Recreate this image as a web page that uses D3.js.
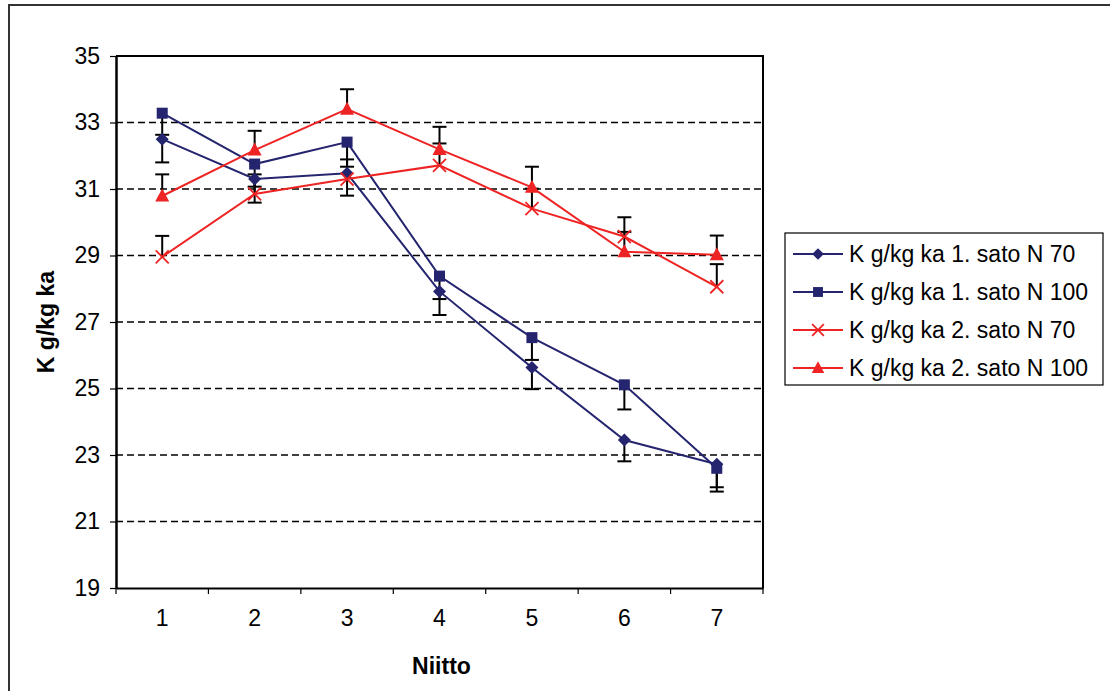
<!DOCTYPE html>
<html>
<head>
<meta charset="utf-8">
<script src="https://cdn.jsdelivr.net/npm/d3@7"></script>
<style>
  html, body { margin: 0; padding: 0; background: #fff; }
  svg { display: block; font-family: "Liberation Sans", Arial, sans-serif; }
</style>
</head>
<body>
<svg id="chart" width="1110" height="691"></svg>
<script>
const categories = ["1", "2", "3", "4", "5", "6", "7"];
const yTicks = [19, 21, 23, 25, 27, 29, 31, 33, 35];

const s1N70  = [32.5, 31.3, 31.47, 27.92, 25.63, 23.45, 22.72];
const s1N70Err  = [0.70, 0.71, 0.67, 0.71, 0.65, 0.64, 0.69];
const s1N100 = [33.28, 31.75, 32.41, 28.38, 26.53, 25.11, 22.60];
const s1N100Err = [0.65, 0.68, 0.74, 0.69, 0.67, 0.74, 0.70];
const s2N70  = [28.96, 30.85, 31.30, 31.71, 30.41, 29.57, 28.06];
const s2N70Err  = [0.63, 0.59, 0.59, 0.66, 0.60, 0.58, 0.68];
const s2N100 = [30.79, 32.17, 33.40, 32.19, 31.05, 29.11, 29.02];
const s2N100Err = [0.65, 0.58, 0.60, 0.68, 0.62, 0.60, 0.58];

const seriesNames = [
  "K g/kg ka 1. sato N 70",
  "K g/kg ka 1. sato N 100",
  "K g/kg ka 2. sato N 70",
  "K g/kg ka 2. sato N 100"
];

const NAVY = "#24246f";
const RED = "#ee2424";
const FONT = 23;

const series = [
  { name: seriesNames[0], values: s1N70,  err: s1N70Err,  dir: -1, color: NAVY, marker: "diamond" },
  { name: seriesNames[1], values: s1N100, err: s1N100Err, dir: -1, color: NAVY, marker: "square" },
  { name: seriesNames[2], values: s2N70,  err: s2N70Err,  dir: 1,  color: RED,  marker: "x" },
  { name: seriesNames[3], values: s2N100, err: s2N100Err, dir: 1,  color: RED,  marker: "triangle" }
];

const svg = d3.select("#chart");
const plot = { left: 116, right: 763, top: 56, bottom: 588 };

const x = d3.scaleBand().domain(categories).range([plot.left, plot.right]).padding(0);
const cx = c => x(c) + x.bandwidth() / 2;
const y = d3.scaleLinear().domain([19, 35]).range([plot.bottom, plot.top]);

// outer chart border
svg.append("rect")
  .attr("x", 9).attr("y", 5).attr("width", 1110).attr("height", 700)
  .attr("fill", "none").attr("stroke", "#333").attr("stroke-width", 2);

// gridlines
svg.append("g")
  .selectAll("line")
  .data(yTicks.filter(t => t > 19 && t < 35))
  .join("line")
  .attr("x1", plot.left).attr("x2", plot.right)
  .attr("y1", d => y(d)).attr("y2", d => y(d))
  .attr("stroke", "#000").attr("stroke-width", 1.4)
  .attr("stroke-dasharray", "7,4");

// plot border (top/right)
svg.append("path")
  .attr("d", `M${plot.left},${plot.top}H${plot.right}V${plot.bottom}`)
  .attr("fill", "none").attr("stroke", "#000").attr("stroke-width", 2);

// y axis
const yAxis = svg.append("g")
  .attr("transform", `translate(${plot.left},0)`)
  .call(d3.axisLeft(y).tickValues(yTicks).tickSize(6).tickPadding(10).tickSizeOuter(0));
yAxis.select(".domain").attr("stroke", "#000").attr("stroke-width", 2.5);
yAxis.selectAll(".tick line").attr("stroke", "#000").attr("stroke-width", 1.2);
yAxis.selectAll(".tick text")
  .attr("font-size", FONT).attr("fill", "#000")
  .attr("font-family", "Liberation Sans, Arial, sans-serif");

// x axis: labels at centers, ticks at boundaries
const xAxis = svg.append("g")
  .attr("transform", `translate(0,${plot.bottom})`)
  .call(d3.axisBottom(x).tickSize(0).tickPadding(22).tickSizeOuter(0));
xAxis.select(".domain").attr("stroke", "#000").attr("stroke-width", 2);
xAxis.selectAll(".tick text")
  .attr("font-size", FONT).attr("fill", "#000")
  .attr("font-family", "Liberation Sans, Arial, sans-serif");
const boundaries = categories.map(c => x(c)).concat([x.range()[1]]);
svg.append("g")
  .selectAll("line")
  .data(boundaries)
  .join("line")
  .attr("x1", d => d).attr("x2", d => d)
  .attr("y1", plot.bottom).attr("y2", plot.bottom + 6)
  .attr("stroke", "#000").attr("stroke-width", 1.2);

// axis titles
svg.append("text")
  .attr("transform", `translate(54,${(plot.top + plot.bottom) / 2}) rotate(-90)`)
  .attr("text-anchor", "middle")
  .attr("font-size", FONT).attr("font-weight", "bold")
  .text("K g/kg ka");
svg.append("text")
  .attr("x", (plot.left + plot.right) / 2 + 2).attr("y", 674)
  .attr("text-anchor", "middle")
  .attr("font-size", FONT).attr("font-weight", "bold")
  .text("Niitto");

// lines
const line = d3.line().x((d, i) => cx(categories[i])).y(d => y(d));
series.forEach(s => {
  svg.append("path")
    .attr("d", line(s.values))
    .attr("fill", "none").attr("stroke", s.color).attr("stroke-width", 2);
});

// error bars
series.forEach(s => {
  const g = svg.append("g");
  s.values.forEach((v, i) => {
    const xc = cx(categories[i]);
    const y0 = y(v), y1 = y(v + s.dir * s.err[i]);
    g.append("line").attr("x1", xc).attr("x2", xc).attr("y1", y0).attr("y2", y1)
      .attr("stroke", "#000").attr("stroke-width", 2);
    g.append("line").attr("x1", xc - 7).attr("x2", xc + 7).attr("y1", y1).attr("y2", y1)
      .attr("stroke", "#000").attr("stroke-width", 2);
  });
});

function drawMarker(g, type, xc, yc, color, k = 1) {
  if (type === "diamond") {
    const r = 6.5 * k;
    g.append("path").attr("d", `M${xc},${yc - r}L${xc + r},${yc}L${xc},${yc + r}L${xc - r},${yc}Z`)
      .attr("fill", color);
  } else if (type === "square") {
    const r = 5.5 * k;
    g.append("rect").attr("x", xc - r).attr("y", yc - r).attr("width", 2 * r).attr("height", 2 * r)
      .attr("fill", color);
  } else if (type === "triangle") {
    g.append("path").attr("d", `M${xc},${yc - 7.5 * k}L${xc + 7 * k},${yc + 5.5 * k}L${xc - 7 * k},${yc + 5.5 * k}Z`)
      .attr("fill", color);
  } else if (type === "x") {
    const r = 6.5 * k;
    g.append("path").attr("d", `M${xc - r},${yc - r}L${xc + r},${yc + r}M${xc - r},${yc + r}L${xc + r},${yc - r}`)
      .attr("stroke", color).attr("stroke-width", 1.8).attr("fill", "none");
  }
}

// markers
series.forEach(s => {
  const g = svg.append("g");
  s.values.forEach((v, i) => drawMarker(g, s.marker, cx(categories[i]), y(v), s.color));
});

// legend
const legend = svg.append("g");
legend.append("rect")
  .attr("x", 785).attr("y", 233).attr("width", 318).attr("height", 152)
  .attr("fill", "#fff").attr("stroke", "#000").attr("stroke-width", 1.2);
series.forEach((s, i) => {
  const ly = 254 + i * 38;
  legend.append("line").attr("x1", 793).attr("x2", 843).attr("y1", ly).attr("y2", ly)
    .attr("stroke", s.color).attr("stroke-width", 2);
  drawMarker(legend, s.marker, 818, ly, s.color, 0.9);
  legend.append("text").attr("x", 849).attr("y", ly).attr("dy", "0.36em")
    .attr("font-size", FONT).attr("fill", "#000")
    .text(s.name);
});
</script>
</body>
</html>
